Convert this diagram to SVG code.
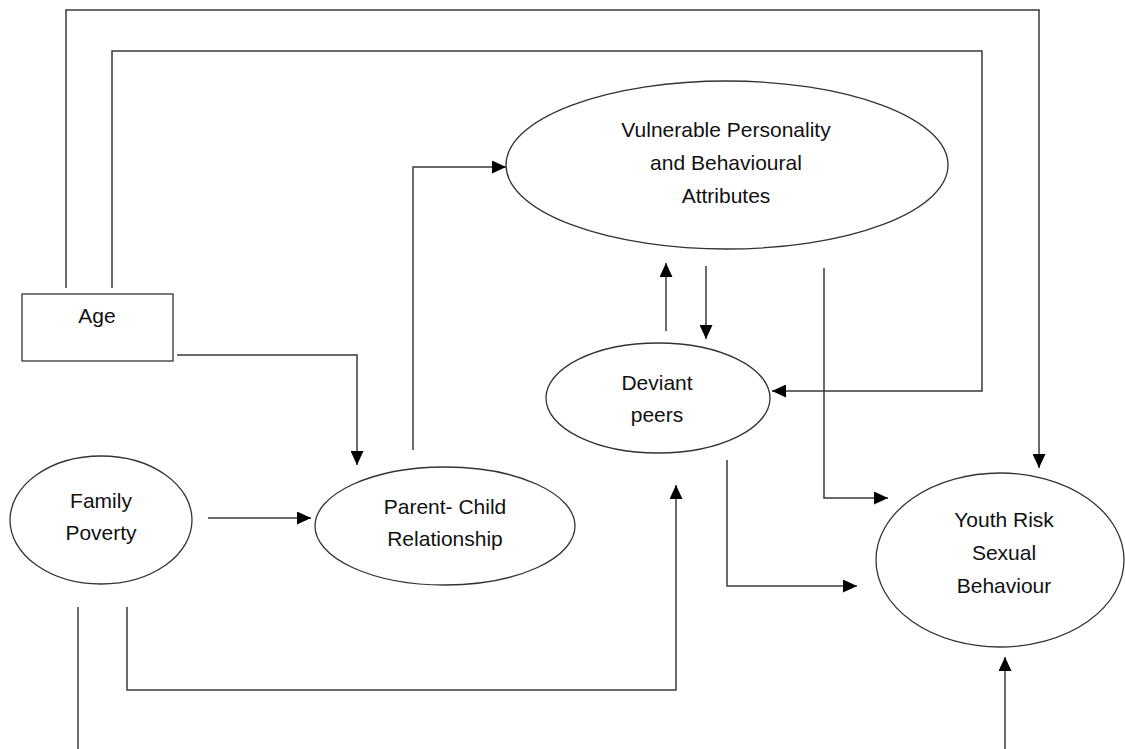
<svg xmlns="http://www.w3.org/2000/svg" width="1125" height="749" viewBox="0 0 1125 749">
<style>
.n{fill:#fff;stroke:#333;stroke-width:1.3}
.t{font-family:"Liberation Sans",Arial,sans-serif;font-size:21px;fill:#111;text-anchor:middle}
.c{fill:none;stroke:#3a3a3a;stroke-width:1.5}
</style>
<defs>
<marker id="ah" markerUnits="userSpaceOnUse" markerWidth="15" markerHeight="13" refX="14" refY="6.5" orient="auto">
<path d="M0,0 L14,6.5 L0,13 Z" fill="#000"/>
</marker>
</defs>
<rect width="1125" height="749" fill="#fff"/>
<g id="connectors">
<path class="c" d="M66,288 V10 H1039 V468" marker-end="url(#ah)"/>
<path class="c" d="M112,288 V51 H982 V391 H772" marker-end="url(#ah)"/>
<path class="c" d="M177,355 H357 V465" marker-end="url(#ah)"/>
<path class="c" d="M208,518 H311" marker-end="url(#ah)"/>
<path class="c" d="M413,450 V167 H506" marker-end="url(#ah)"/>
<path class="c" d="M666,331 V263" marker-end="url(#ah)"/>
<path class="c" d="M706,266 V339" marker-end="url(#ah)"/>
<path class="c" d="M824,268 V498 H888" marker-end="url(#ah)"/>
<path class="c" d="M727,460 V586 H857" marker-end="url(#ah)"/>
<path class="c" d="M127,607 V690 H676 V485" marker-end="url(#ah)"/>
<path class="c" d="M78,607 V749"/>
<path class="c" d="M1005,749 V657" marker-end="url(#ah)"/>
</g>
<g id="age">
<rect class="n" x="22" y="294" width="151" height="67"/>
<text class="t" x="97" y="323">Age</text>
</g>
<g id="family-poverty">
<ellipse class="n" cx="101" cy="520" rx="91" ry="64"/>
<text class="t" x="101" y="508">Family</text>
<text class="t" x="101" y="540">Poverty</text>
</g>
<g id="parent-child">
<ellipse class="n" cx="445" cy="526" rx="130" ry="59"/>
<text class="t" x="445" y="514">Parent- Child</text>
<text class="t" x="445" y="546">Relationship</text>
</g>
<g id="vulnerable">
<ellipse class="n" cx="727" cy="165" rx="221" ry="84"/>
<text class="t" x="726" y="137">Vulnerable Personality</text>
<text class="t" x="726" y="170">and Behavioural</text>
<text class="t" x="726" y="203">Attributes</text>
</g>
<g id="deviant-peers">
<ellipse class="n" cx="658" cy="398" rx="112" ry="55"/>
<text class="t" x="657" y="390">Deviant</text>
<text class="t" x="657" y="422">peers</text>
</g>
<g id="youth-risk">
<ellipse class="n" cx="1000" cy="560" rx="124" ry="87"/>
<text class="t" x="1004" y="527">Youth Risk</text>
<text class="t" x="1004" y="560">Sexual</text>
<text class="t" x="1004" y="593">Behaviour</text>
</g>
</svg>
